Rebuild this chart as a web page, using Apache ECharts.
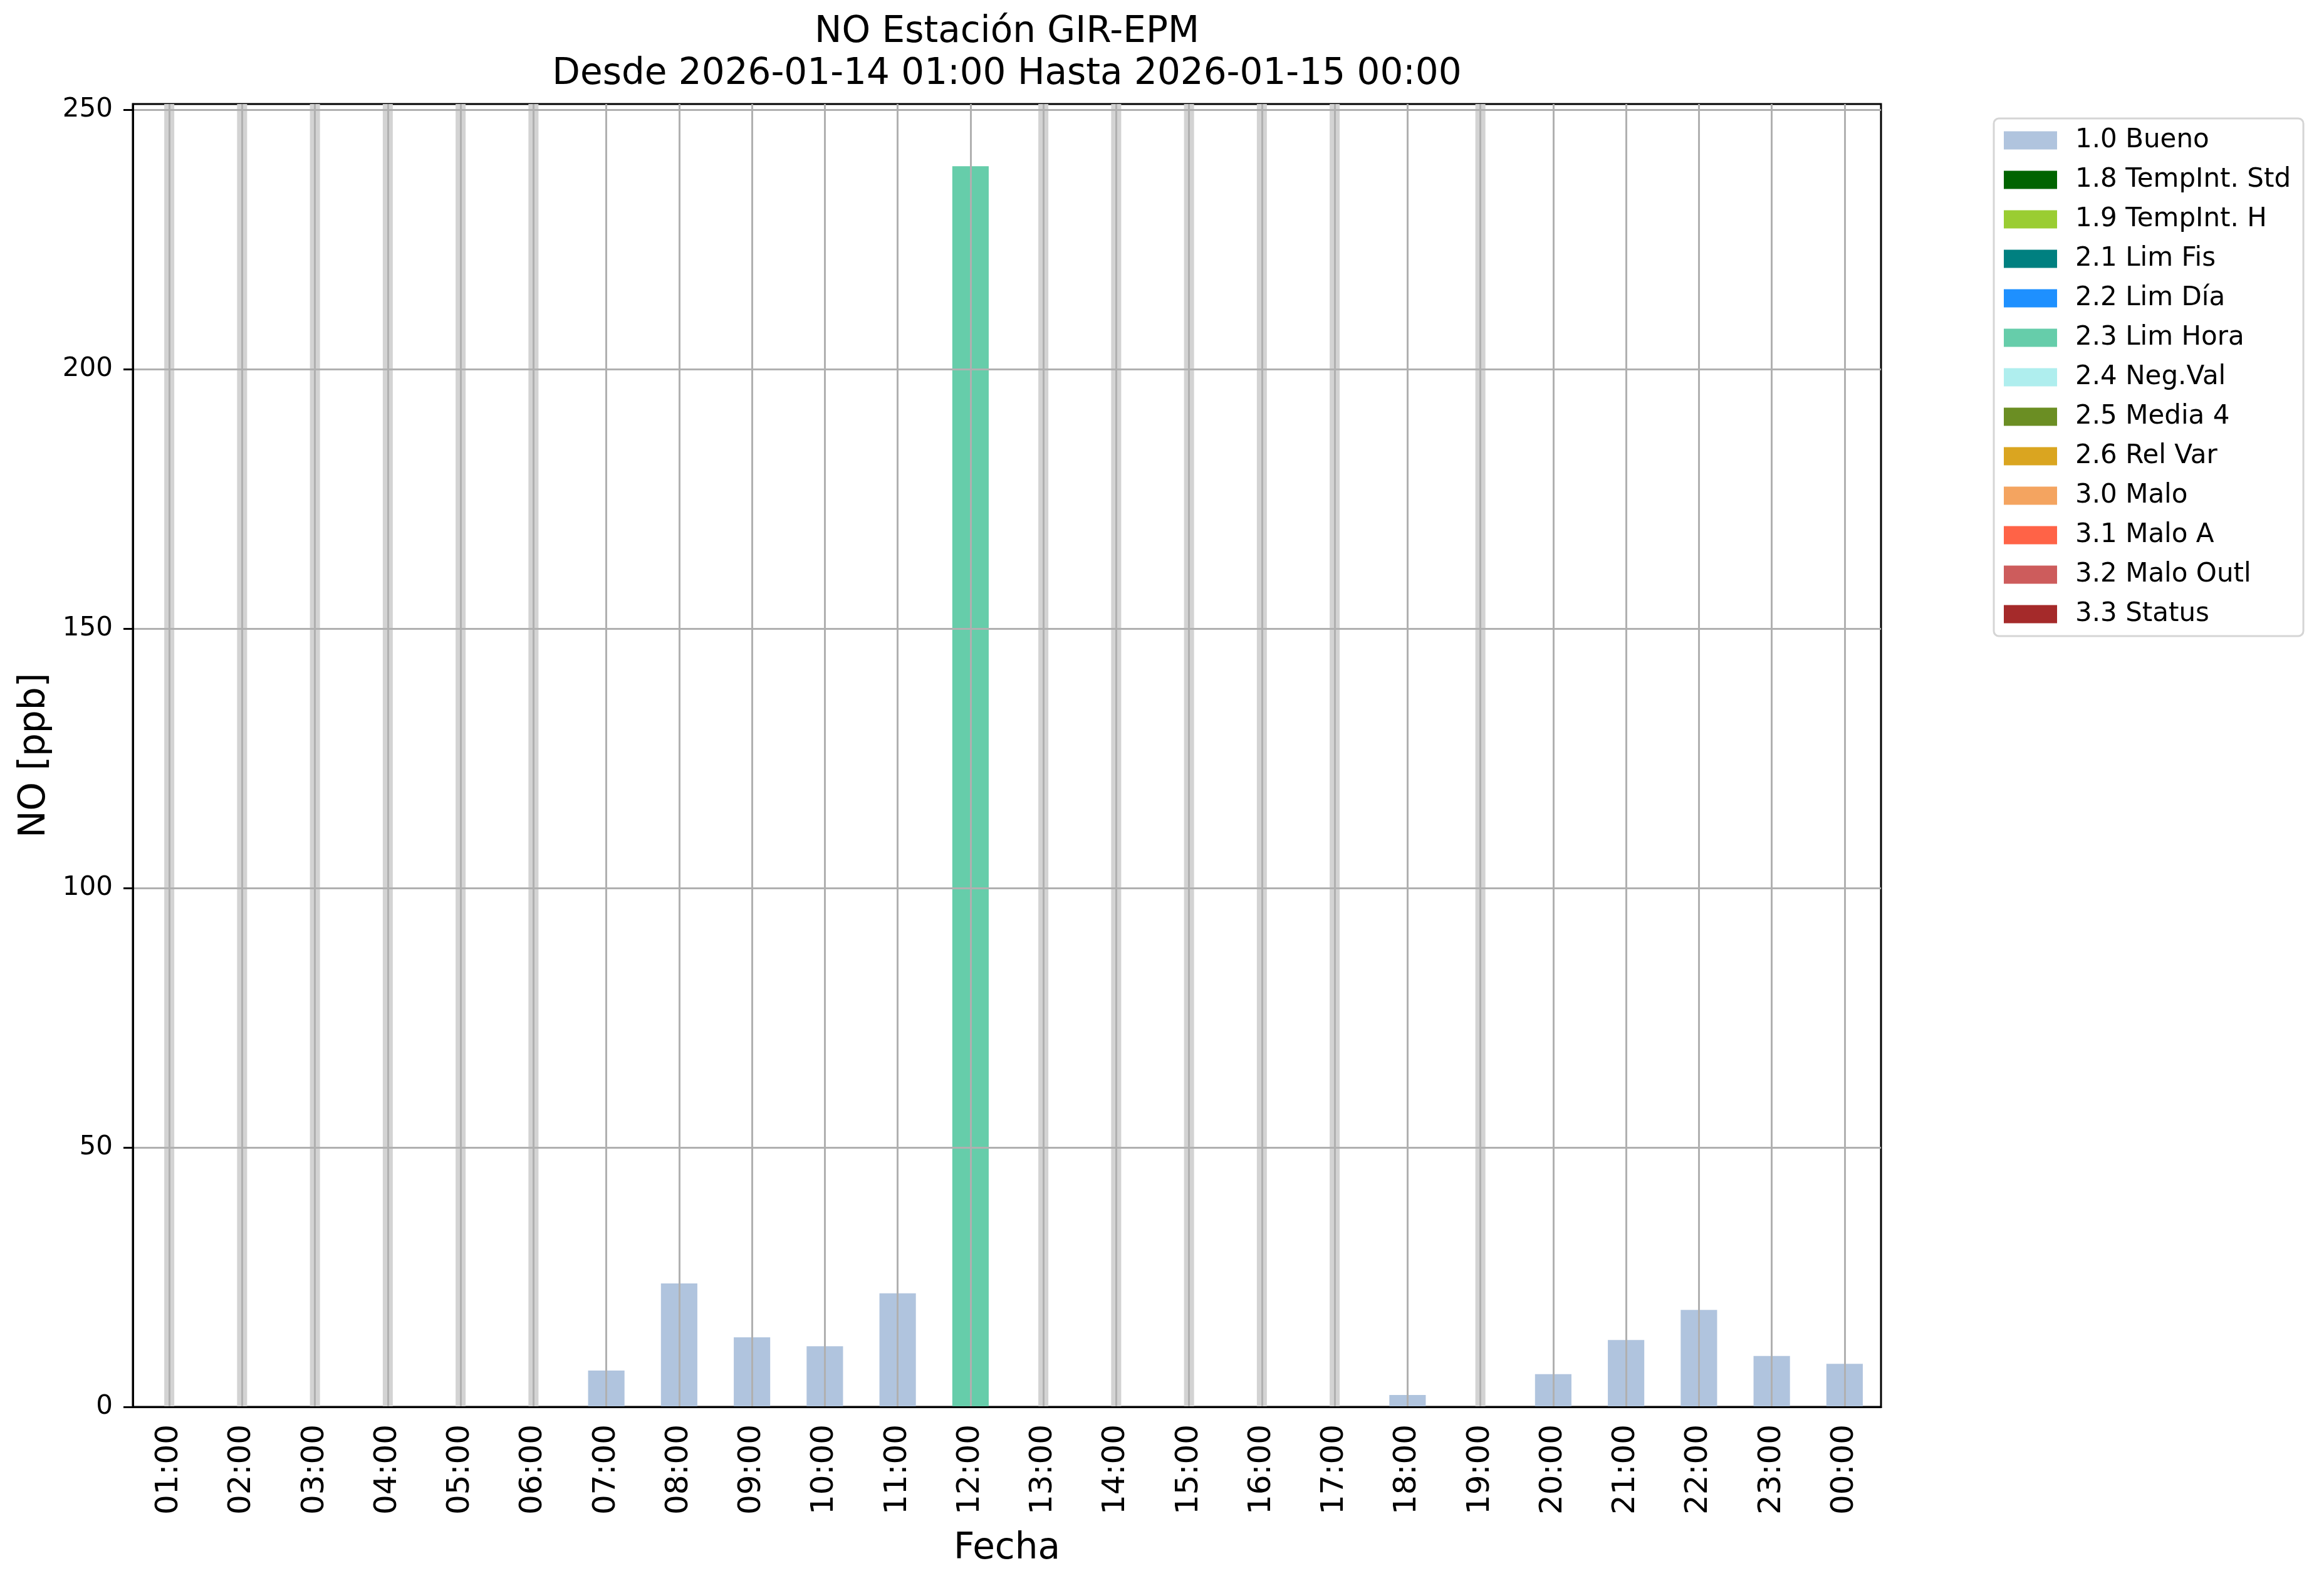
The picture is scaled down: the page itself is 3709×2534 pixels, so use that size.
<!DOCTYPE html>
<html>
<head>
<meta charset="utf-8">
<script src="https://cdn.jsdelivr.net/npm/echarts@6/dist/echarts.min.js"></script>
<style>
html,body{margin:0;padding:0;background:#fff;}
#chart{width:3709px;height:2534px;}
</style>
</head>
<body>
<div id="chart"></div>
<script>
// ---- data ----
const categories = ['01:00','02:00','03:00','04:00','05:00','06:00','07:00','08:00','09:00','10:00','11:00','12:00',
  '13:00','14:00','15:00','16:00','17:00','18:00','19:00','20:00','21:00','22:00','23:00','00:00'];
const bueno = [null,null,null,null,null,null,7.0,23.8,13.4,11.7,21.9,null,
  null,null,null,null,null,2.3,null,6.3,12.9,18.7,9.8,8.3];
const limHora = [null,null,null,null,null,null,null,null,null,null,null,239.1,
  null,null,null,null,null,null,null,null,null,null,null,null];
const missingHours = ['01:00','02:00','03:00','04:00','05:00','06:00','13:00','14:00','15:00','16:00','17:00','19:00'];
const flagNames = ['1.0 Bueno','1.8 TempInt. Std','1.9 TempInt. H','2.1 Lim Fis','2.2 Lim Día','2.3 Lim Hora',
  '2.4 Neg.Val','2.5 Media 4','2.6 Rel Var','3.0 Malo','3.1 Malo A','3.2 Malo Outl','3.3 Status'];
const flagColors = ['#b0c4de','#006400','#9acd32','#008080','#1e90ff','#66cdaa',
  '#afeeee','#6b8e23','#daa520','#f4a460','#ff6347','#cd5c5c','#a52a2a'];
const yTicks = [0,50,100,150,200,250];
const yMax = 251.1;
const titleLines = ['NO Estación GIR-EPM','Desde 2026-01-14 01:00 Hasta 2026-01-15 00:00'];
const xName = 'Fecha';
const yName = 'NO [ppb]';

// ---- chart ----
const FONT = 'DejaVu Sans';
const chart = echarts.init(document.getElementById('chart'), null, {renderer:'canvas'});
const seriesData = {'1.0 Bueno': bueno, '2.3 Lim Hora': limHora};
const emptyRow = categories.map(() => null);

const series = [{
  name: 'missing',
  type: 'bar',
  xAxisIndex: 1,
  barWidth: 16,
  itemStyle: {color: '#d3d3d3'},
  data: categories.map(c => missingHours.includes(c) ? yMax : null),
  silent: true,
  z: 1
}];
flagNames.forEach((n, i) => {
  series.push({
    name: n,
    type: 'bar',
    stack: 'flags',
    xAxisIndex: 0,
    barWidth: '50%',
    itemStyle: {color: flagColors[i]},
    data: seriesData[n] || emptyRow,
    z: 2
  });
});
// vertical grid lines at category centres, drawn over the bars
series.push({
  name: 'vgrid',
  type: 'line',
  xAxisIndex: 1,
  data: [],
  silent: true,
  z: 4,
  markLine: {
    silent: true,
    symbol: ['none','none'],
    label: {show: false},
    emphasis: {disabled: true},
    lineStyle: {color: '#b0b0b0', width: 3, type: 'solid'},
    data: categories.map(c => ({xAxis: c}))
  }
});

const gridL = 212, gridT = 166, gridR = 3002, gridB = 2245;
const option = {
  animation: false,
  backgroundColor: '#ffffff',
  textStyle: {fontFamily: FONT},
  grid: {left: gridL, top: gridT, width: gridR - gridL, height: gridB - gridT,
    show: true, borderColor: '#000', borderWidth: 3, backgroundColor: 'transparent'},
  legend: {
    orient: 'vertical', left: 3182, top: 189,
    padding: [14, 20, 14, 16],
    itemWidth: 85, itemHeight: 29, itemGap: 21,
    icon: 'rect',
    borderColor: '#d5d5d5', borderWidth: 3, borderRadius: 8,
    backgroundColor: '#fff',
    data: flagNames,
    textStyle: {fontFamily: FONT, fontSize: 42, color: '#000', padding: [0,0,0,24]}
  },
  xAxis: [{
    type: 'category', data: categories, boundaryGap: true, z: 5,
    axisLine: {lineStyle: {color: '#000', width: 3}},
    axisTick: {alignWithLabel: true, length: 15, lineStyle: {color: '#000', width: 3}},
    axisLabel: {rotate: 90, fontSize: 50, color: '#000', margin: 28, fontFamily: FONT, interval: 0},
    splitLine: {show: false}
  }, {
    type: 'category', data: categories, boundaryGap: true, show: false
  }],
  yAxis: {
    type: 'value', min: 0, max: yMax, interval: 50, z: 5,
    axisLine: {show: true, lineStyle: {color: '#000', width: 3}},
    axisTick: {show: true, length: 15, lineStyle: {color: '#000', width: 3}, customValues: yTicks},
    axisLabel: {fontSize: 42, color: '#000', margin: 32, fontFamily: FONT, customValues: yTicks},
    splitLine: {show: true, lineStyle: {color: '#b0b0b0', width: 3}}
  },
  graphic: [
    {type: 'text', x: (gridL + gridR) / 2, y: 52, style: {text: titleLines[0], fontFamily: FONT, fontSize: 58, fill: '#000', textAlign: 'center', textVerticalAlign: 'middle'}},
    {type: 'text', x: (gridL + gridR) / 2, y: 119, style: {text: titleLines[1], fontFamily: FONT, fontSize: 58, fill: '#000', textAlign: 'center', textVerticalAlign: 'middle'}},
    {type: 'text', x: (gridL + gridR) / 2, y: 2472, style: {text: xName, fontFamily: FONT, fontSize: 58, fill: '#000', textAlign: 'center', textVerticalAlign: 'middle'}},
    {type: 'text', x: 56, y: (gridT + gridB) / 2, rotation: Math.PI / 2, style: {text: yName, fontFamily: FONT, fontSize: 58, fill: '#000', textAlign: 'center', textVerticalAlign: 'middle'}}
  ],
  series: series
};
chart.setOption(option);
</script>
</body>
</html>
